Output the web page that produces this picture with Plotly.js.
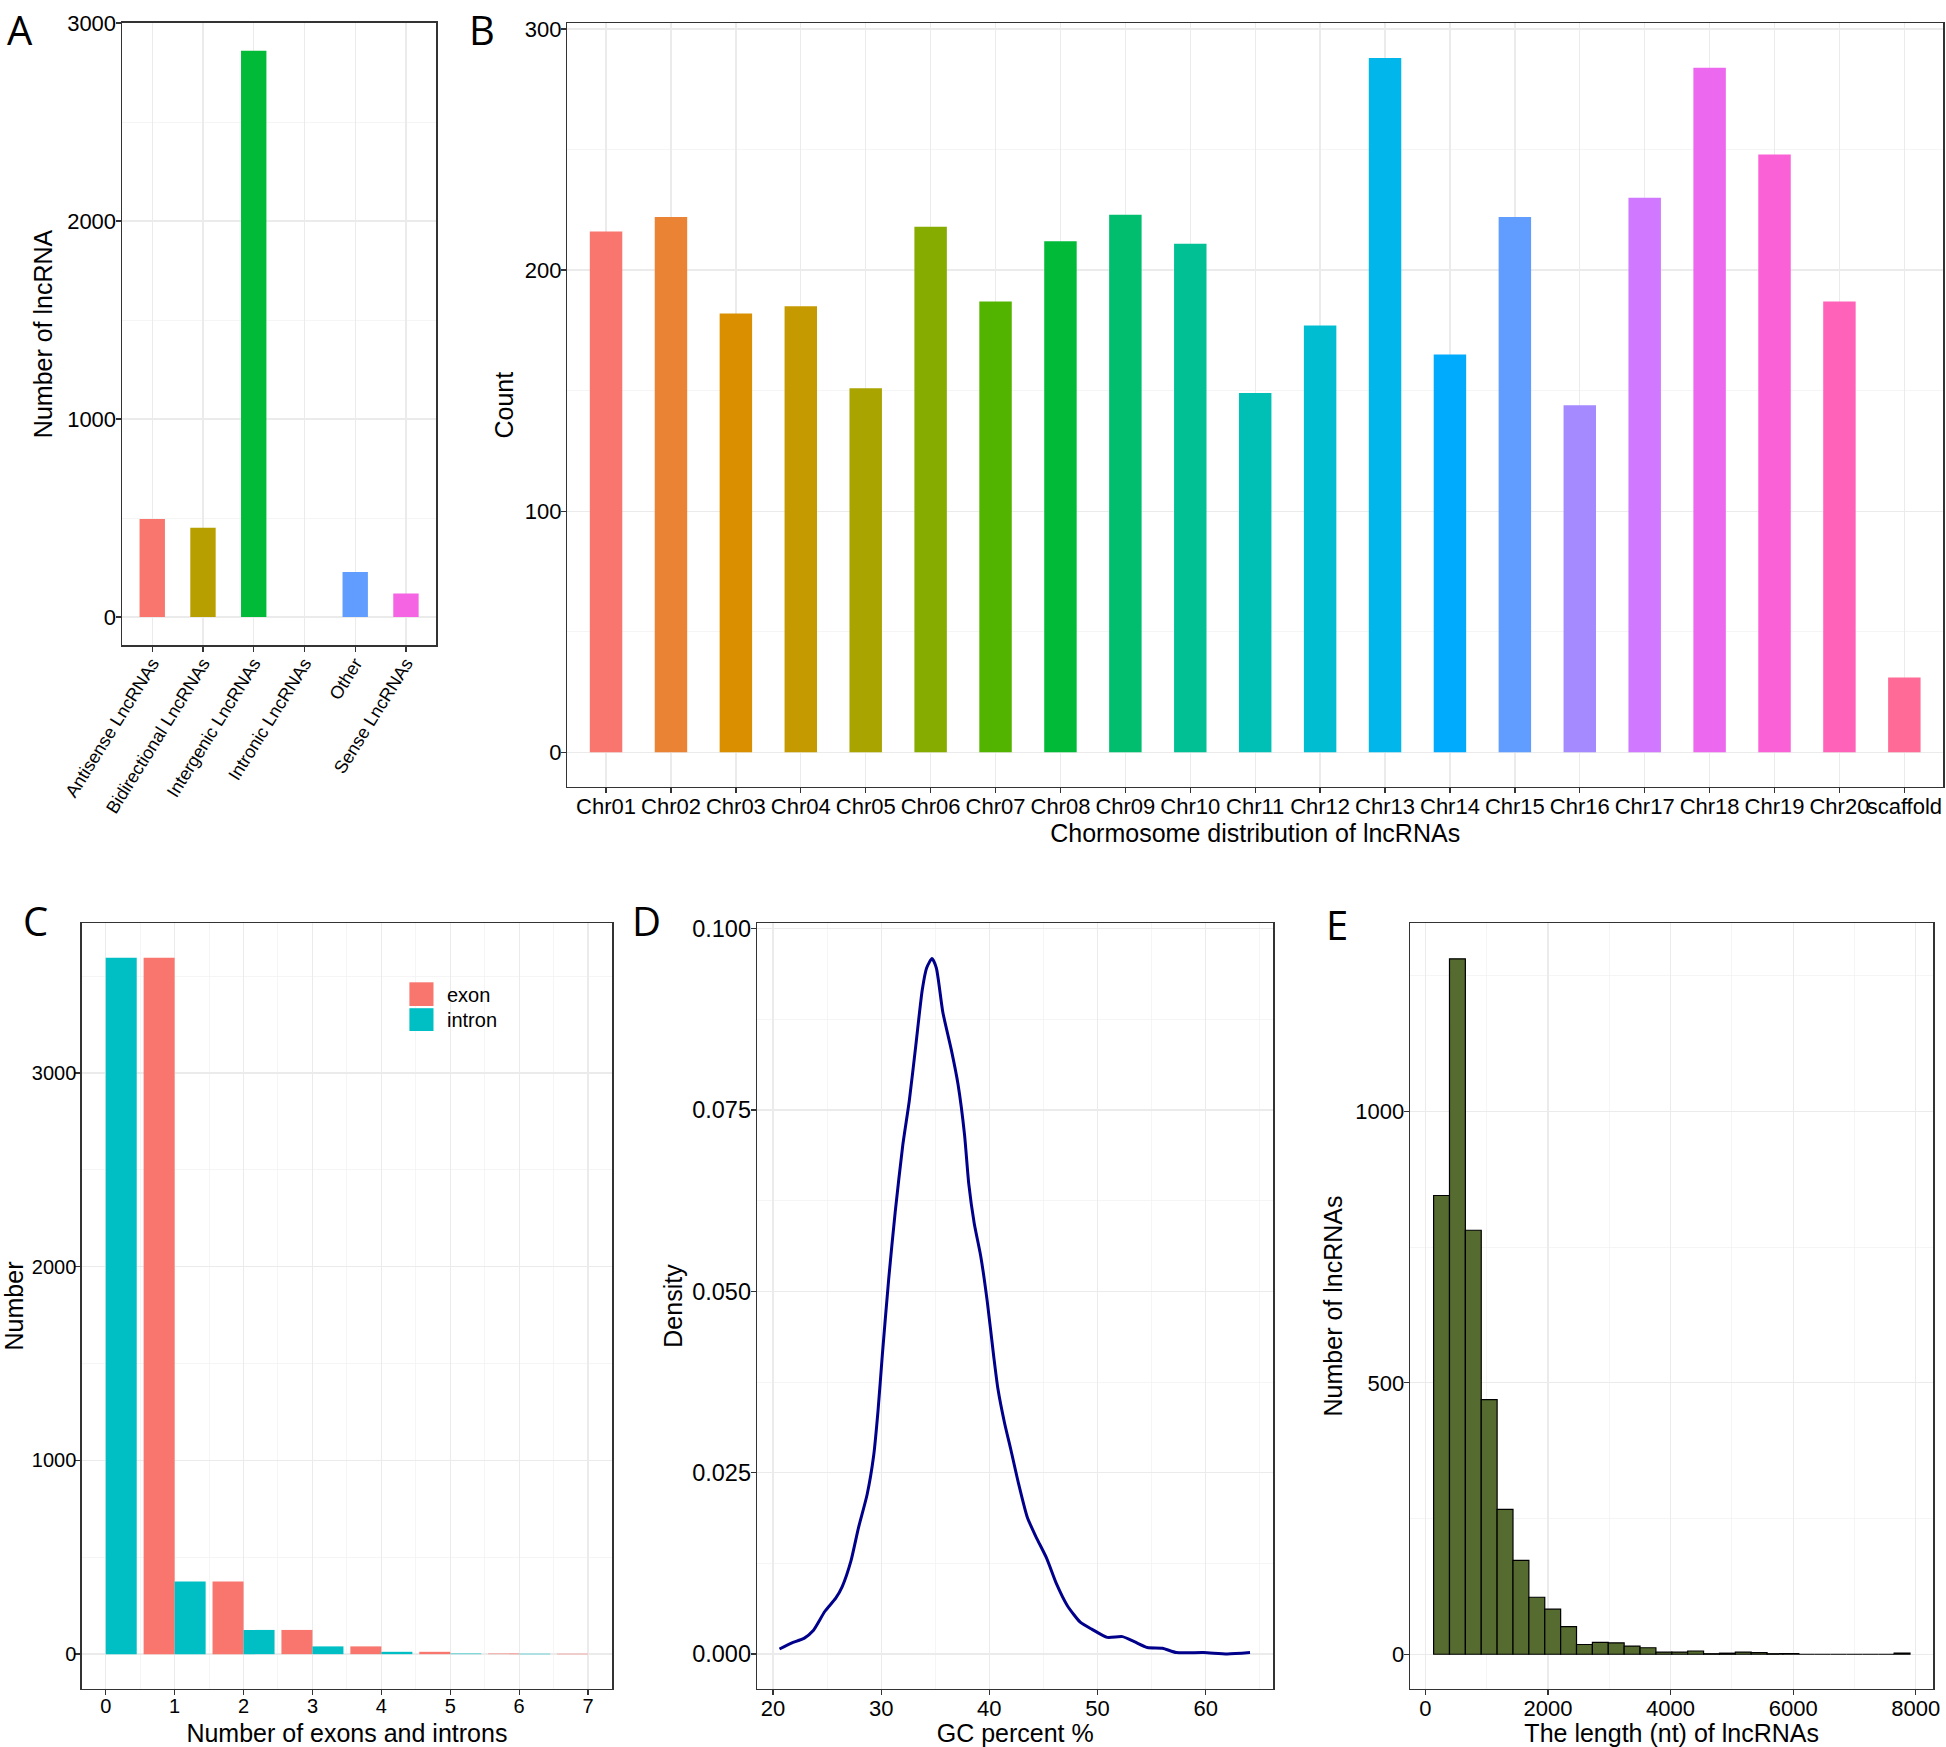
<!DOCTYPE html>
<html>
<head>
<meta charset="utf-8">
<script src="https://cdn.plot.ly/plotly-3.0.1.min.js"></script>
<style>
  html, body { margin: 0; padding: 0; background: #fff; }
  #chart { width: 1946px; height: 1747px; }
</style>
</head>
<body>
<div id="chart"></div>
<script>
// ---------------- DATA ----------------
// Panel A: lncRNA classes
const typeLabels = ["Antisense LncRNAs", "Bidirectional LncRNAs", "Intergenic LncRNAs", "Intronic LncRNAs", "Other", "Sense LncRNAs"];
const typeCounts = [496, 451, 2860, 0, 228, 119];

// Panel B: chromosome distribution
const chromLabels = ["Chr01","Chr02","Chr03","Chr04","Chr05","Chr06","Chr07","Chr08","Chr09","Chr10","Chr11","Chr12","Chr13","Chr14","Chr15","Chr16","Chr17","Chr18","Chr19","Chr20","scaffold"];
const chromCounts = [216, 222, 182, 185, 151, 218, 187, 212, 223, 211, 149, 177, 288, 165, 222, 144, 230, 284, 248, 187, 31];

// Panel C: exon / intron numbers
const exonNumber = [1, 2, 3, 4, 5, 6, 7];
const exonCounts = [3595, 375, 125, 40, 12, 3, 2];
const intronNumber = [0, 1, 2, 3, 4, 5, 6];
const intronCounts = [3595, 375, 125, 40, 12, 3, 2];

// Panel D: GC percent density curve
const gcPercent = [20.6, 21.7, 22.9, 23.7, 24.8, 25.8, 26.4, 27.2, 27.9, 28.7, 29.3, 29.7, 30.1, 30.7, 31.3, 32.0, 32.6, 33.2, 33.8, 34.2, 34.7, 35.1, 35.7, 36.5, 37.1, 37.7, 38.1, 38.6, 39.2, 39.8, 40.4, 40.8, 41.4, 42.0, 42.7, 43.5, 44.3, 45.3, 46.2, 47.2, 48.4, 49.5, 50.9, 52.3, 53.4, 54.6, 56.0, 57.3, 59.8, 62.0, 64.1];
const gcDensity = [0.0007, 0.0015, 0.0022, 0.0032, 0.0059, 0.0077, 0.0093, 0.0128, 0.0174, 0.0220, 0.0273, 0.0334, 0.0411, 0.0518, 0.0610, 0.0702, 0.0763, 0.0839, 0.0916, 0.0946, 0.0959, 0.0946, 0.0885, 0.0832, 0.0786, 0.0717, 0.0648, 0.0594, 0.0549, 0.0487, 0.0411, 0.0365, 0.0319, 0.0281, 0.0235, 0.0189, 0.0162, 0.0132, 0.0097, 0.0067, 0.0044, 0.0034, 0.0023, 0.0024, 0.0017, 0.0009, 0.0008, 0.0002, 0.0002, 0.0000, 0.0002];

// Panel E: length histogram (30 bins)
const lengthBinStart = 135;
const lengthBinWidth = 259;
const lengthCounts = [845, 1281, 781, 469, 267, 173, 105, 83, 51, 18, 22, 21, 15, 12, 4, 4, 6, 1, 2, 4, 3, 1, 1, 0, 0, 0, 0, 0, 0, 2];

// Tick labels
const gcTicks = [20, 30, 40, 50, 60];
const lengthTicks = [0, 2000, 4000, 6000, 8000];

// ---------------- STYLE HELPERS ----------------
const W = 1946, H = 1747;
const F = "Liberation Sans, Arial, Helvetica, sans-serif";
const px = x => x / W;
const py = y => 1 - y / H;
const dom = (a, b) => [a / W, b / W];
const domY = (top, bottom) => [1 - bottom / H, 1 - top / H];

// ggplot2 hue palette (HCL, c=100, l=65)
function hcl2hex(h, c, l) {
  const hr = h * Math.PI / 180;
  const U = c * Math.cos(hr), V = c * Math.sin(hr);
  const Xn = 95.047, Yn = 100.0, Zn = 108.883;
  const den = Xn + 15 * Yn + 3 * Zn;
  const un = 4 * Xn / den, vn = 9 * Yn / den;
  const Y = Yn * (l > 8 ? Math.pow((l + 16) / 116, 3) : l / 903.3);
  const u = U / (13 * l) + un, v = V / (13 * l) + vn;
  const X = Y * 9 * u / (4 * v);
  const Z = Y * (12 - 3 * u - 20 * v) / (4 * v);
  const x = X / 100, y = Y / 100, z = Z / 100;
  let rgb = [
    3.240479 * x - 1.537150 * y - 0.498535 * z,
    -0.969256 * x + 1.875992 * y + 0.041556 * z,
    0.055648 * x - 0.204043 * y + 1.057311 * z
  ];
  return '#' + rgb.map(t => {
    t = t <= 0.0031308 ? 12.92 * t : 1.055 * Math.pow(t, 1 / 2.4) - 0.055;
    t = Math.max(0, Math.min(1, t));
    return Math.round(t * 255).toString(16).padStart(2, '0');
  }).join('');
}
function huePal(n) {
  const out = [];
  for (let i = 0; i < n; i++) out.push(hcl2hex(15 + 360 * i / n, 100, 65));
  return out;
}

const typeColors = ["#F8766D", "#B79F00", "#00BA38", "#00BFC4", "#619CFF", "#F564E3"];
const chromColors = huePal(chromLabels.length);

function axisBase(size, standoff) {
  return {
    showline: true, mirror: true, linecolor: '#333333', linewidth: 1.3,
    ticks: 'outside', ticklen: 5, tickwidth: 1.3, tickcolor: '#333333',
    ticklabelstandoff: standoff,
    showgrid: true, gridcolor: '#EBEBEB', gridwidth: 1.3,
    zeroline: false, fixedrange: true,
    tickfont: { family: F, size: size, color: '#000000' }
  };
}
function withTitle(ax, text, standoff) {
  ax.title = { text: text, font: { family: F, size: 25, color: '#000000' }, standoff: standoff };
  return ax;
}
const minorGrid = d => ({ dtick: d, showgrid: true, gridcolor: '#F2F2F2', gridwidth: 0.8, ticks: '' });

// ---------------- TRACES ----------------
const xLen = lengthCounts.map((_, i) => lengthBinStart + (i + 0.5) * lengthBinWidth);

const traces = [
  { type: 'bar', x: typeLabels, y: typeCounts, width: 0.5,
    marker: { color: typeColors }, xaxis: 'x', yaxis: 'y', showlegend: false },
  { type: 'bar', x: chromLabels, y: chromCounts, width: 0.5,
    marker: { color: chromColors }, xaxis: 'x2', yaxis: 'y2', showlegend: false },
  { type: 'bar', name: 'exon', x: exonNumber, y: exonCounts, width: 0.45, offset: -0.45,
    marker: { color: '#F8766D' }, xaxis: 'x3', yaxis: 'y3', showlegend: false },
  { type: 'bar', name: 'intron', x: intronNumber, y: intronCounts, width: 0.45, offset: 0,
    marker: { color: '#00BFC4' }, xaxis: 'x3', yaxis: 'y3', showlegend: false },
  { type: 'scatter', mode: 'lines', x: gcPercent, y: gcDensity,
    line: { color: '#00008B', width: 3, shape: 'spline', smoothing: 0.6 },
    xaxis: 'x4', yaxis: 'y4', showlegend: false },
  { type: 'bar', x: xLen, y: lengthCounts, width: lengthBinWidth,
    marker: { color: '#556B2F', line: { color: '#000000', width: 1.2 } },
    xaxis: 'x5', yaxis: 'y5', showlegend: false }
];

// ---------------- LAYOUT ----------------
const ROW2 = [923, 1689];
const XS = -6, YS = -5;   // tick label standoffs (closer to axis, like ggplot)

const letterFont = { family: 'Open Sans, Noto Sans, sans-serif', size: 40, color: '#000' };
const letter = (t, x, y, anchor) => ({
  text: t, xref: 'paper', yref: 'paper', x: px(x), y: py(y), xanchor: 'center', yanchor: anchor,
  showarrow: false, font: letterFont, borderpad: 0
});

const layout = {
  width: W, height: H,
  margin: { l: 0, r: 0, t: 0, b: 0, pad: 0 },
  paper_bgcolor: '#ffffff', plot_bgcolor: '#ffffff',
  barmode: 'overlay',
  showlegend: false,
  font: { family: F, color: '#000000' },

  // A
  xaxis: Object.assign(axisBase(18, XS), {
    domain: dom(121.8, 436.4), anchor: 'y', type: 'category',
    range: [-0.6, typeLabels.length - 0.4], tickangle: -58
  }),
  yaxis: withTitle(Object.assign(axisBase(22, YS), {
    domain: domY(22.5, 645.4), anchor: 'x', range: [-143, 3003],
    dtick: 1000, tick0: 0, tickformat: 'd', minor: minorGrid(500)
  }), 'Number of lncRNA', 7),

  // B
  xaxis2: withTitle(Object.assign(axisBase(22, XS), {
    domain: dom(567.1, 1943.3), anchor: 'y2', type: 'category',
    range: [-0.6, chromLabels.length - 0.4], tickangle: 0
  }), 'Chormosome distribution of lncRNAs', 0),
  yaxis2: withTitle(Object.assign(axisBase(22, YS), {
    domain: domY(23.3, 787), anchor: 'x2', range: [-14.4, 302.4],
    dtick: 100, tick0: 0, minor: minorGrid(50)
  }), 'Count', 4),

  // C
  xaxis3: withTitle(Object.assign(axisBase(20, XS), {
    domain: dom(81.6, 612.2), anchor: 'y3', range: [-0.35, 7.35],
    dtick: 1, tick0: 0, minor: minorGrid(0.5)
  }), 'Number of exons and introns', 9),
  yaxis3: withTitle(Object.assign(axisBase(20, YS), {
    domain: domY(ROW2[0], ROW2[1]), anchor: 'x3', range: [-180, 3775],
    dtick: 1000, tick0: 0, tickformat: 'd', minor: minorGrid(500)
  }), 'Number', 9),

  // D
  xaxis4: withTitle(Object.assign(axisBase(22, XS), {
    domain: dom(757, 1273.4), anchor: 'y4', range: [18.52, 66.26],
    tickvals: gcTicks, ticktext: gcTicks.map(String), minor: minorGrid(5)
  }), 'GC percent %', 9),
  yaxis4: withTitle(Object.assign(axisBase(23.5, YS), {
    domain: domY(ROW2[0], ROW2[1]), anchor: 'x4', range: [-0.00482, 0.1008],
    dtick: 0.025, tick0: 0, tickformat: '.3f', minor: minorGrid(0.0125)
  }), 'Density', 2),

  // E
  xaxis5: withTitle(Object.assign(axisBase(22, XS), {
    domain: dom(1410, 1933.3), anchor: 'y5', range: [-250, 8285],
    tickvals: lengthTicks, ticktext: lengthTicks.map(String), minor: minorGrid(1000)
  }), 'The length (nt) of lncRNAs', 9),
  yaxis5: withTitle(Object.assign(axisBase(22, YS), {
    domain: domY(ROW2[0], ROW2[1]), anchor: 'x5', range: [-64, 1347],
    dtick: 500, tick0: 0, tickformat: 'd', minor: minorGrid(250)
  }), 'Number of lncRNAs', 5),

  // manual legend keys for panel C
  shapes: [
    { type: 'rect', xref: 'paper', yref: 'paper', x0: px(409.4), x1: px(433.5), y0: py(1006), y1: py(982.3),
      fillcolor: '#F8766D', line: { width: 0 } },
    { type: 'rect', xref: 'paper', yref: 'paper', x0: px(409.4), x1: px(433.5), y0: py(1031), y1: py(1008.2),
      fillcolor: '#00BFC4', line: { width: 0 } }
  ],

  annotations: [
    { text: 'exon', xref: 'paper', yref: 'paper', x: px(445), y: py(995), xanchor: 'left', yanchor: 'middle',
      showarrow: false, font: { family: F, size: 20, color: '#000' } },
    { text: 'intron', xref: 'paper', yref: 'paper', x: px(445), y: py(1020), xanchor: 'left', yanchor: 'middle',
      showarrow: false, font: { family: F, size: 20, color: '#000' } },
    // panel letters
    letter('A', 20, 1, 'top'),
    letter('B', 481.5, 1, 'top'),
    letter('C', 35, 920, 'middle'),
    letter('D', 646.6, 920, 'middle'),
    letter('E', 1336.6, 924.6, 'middle')
  ]
};

Plotly.newPlot('chart', traces, layout, { displayModeBar: false, staticPlot: true });
</script>
</body>
</html>
